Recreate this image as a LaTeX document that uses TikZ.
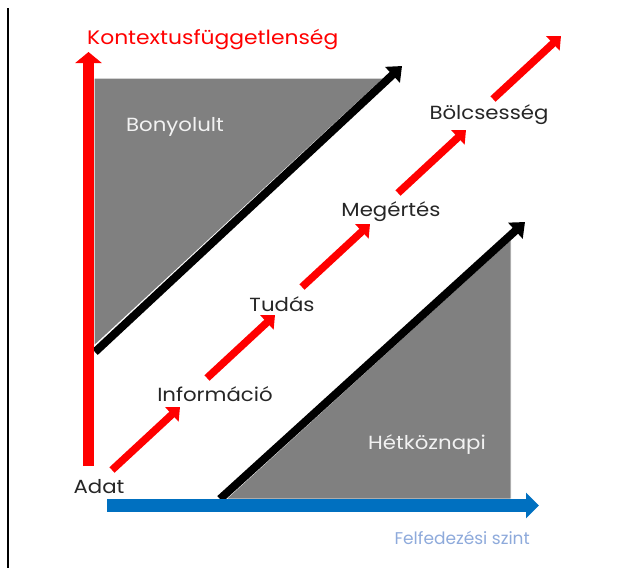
\documentclass[tikz,border=0pt]{standalone}
\usepackage{fontspec}
\setmainfont{Poppins}
\newfontfamily\widefont{Poppins}[FakeStretch=1.12]
\usetikzlibrary{arrows.meta}
\definecolor{axred}{HTML}{FF0000}
\definecolor{axblue}{HTML}{0070C0}
\definecolor{lblblue}{HTML}{8EAADB}
\definecolor{areagray}{HTML}{808080}
\definecolor{txt}{HTML}{262626}
\definecolor{wtxt}{HTML}{F2F2F2}
\tikzset{
  lbl/.style={font=\widefont\fontsize{19}{22}\selectfont, text=txt, inner sep=0pt},
  wlbl/.style={font=\widefont\fontsize{19}{22}\selectfont, text=wtxt, inner sep=0pt},
  stagearrow/.style={draw=axred, line width=7.5pt, -{Triangle[length=11pt,width=19pt]}},
  diagarrow/.style={draw=black, line width=8pt, -{Triangle[length=13pt,width=21pt]}},
  area/.style={fill=areagray, draw=white, line width=1pt},
}
\begin{document}
\begin{tikzpicture}[x=1pt,y=-1pt]
\useasboundingbox (0,0) rectangle (623,568);
% left border
\draw[line width=2pt] (8,8) -- (8,568);
% gray areas
\draw[area] (94,78) -- (384,78) -- (94,346) -- cycle;
\draw[area] (226,499) -- (511,499) -- (511,239) -- cycle;
% black diagonal arrows
\coordinate (u0) at (95,352);
\coordinate (u1) at (402,66);
\coordinate (l0) at (220,499);
\coordinate (l1) at (525,222);
\draw[diagarrow] (u0) -- (u1);
\draw[diagarrow] (l0) -- (l1);
% axes
\coordinate (y0) at (88.5,466);
\coordinate (y1) at (88.5,52);
\draw[draw=axred, line width=11pt, -{Triangle[length=11pt,width=26pt]}] (y0) -- (y1);
\coordinate (x0) at (107,505.5);
\coordinate (x1) at (539,505.5);
\draw[draw=axblue, line width=13pt, -{Triangle[length=13pt,width=25pt]}] (x0) -- (x1);
% axis labels
\node[font=\widefont\fontsize{19.5}{22}\selectfont, text=axred, inner sep=0pt, anchor=west] (ttl) at (87,40) {Kontextusfüggetlenség};
\node[font=\fontsize{17}{20}\selectfont, text=lblblue, inner sep=0pt, anchor=east] (xl) at (530,538) {Felfedezési szint};
\node[wlbl] (bony) at (175,127) {Bonyolult};
\node[wlbl] (hetk) at (427,445) {Hétköznapi};
% stage labels
\node[lbl] (adat) at (99,487) {Adat};
\node[lbl] (info) at (215,394) {Információ};
\node[lbl] (tudas) at (282,304) {Tudás};
\node[lbl] (meg) at (391,212) {Megértés};
\node[lbl] (bolcs) at (489,115) {Bölcsesség};
% stage arrows
\coordinate (a1s) at (112,470); \coordinate (a1e) at (180,407);
\coordinate (a2s) at (207,378); \coordinate (a2e) at (275,315);
\coordinate (a3s) at (302,287); \coordinate (a3e) at (370,224);
\coordinate (a4s) at (398,193); \coordinate (a4e) at (466,130);
\coordinate (a5s) at (493,99);  \coordinate (a5e) at (561,36);
\draw[stagearrow] (a1s) -- (a1e);
\draw[stagearrow] (a2s) -- (a2e);
\draw[stagearrow] (a3s) -- (a3e);
\draw[stagearrow] (a4s) -- (a4e);
\draw[stagearrow] (a5s) -- (a5e);
\end{tikzpicture}
\end{document}
